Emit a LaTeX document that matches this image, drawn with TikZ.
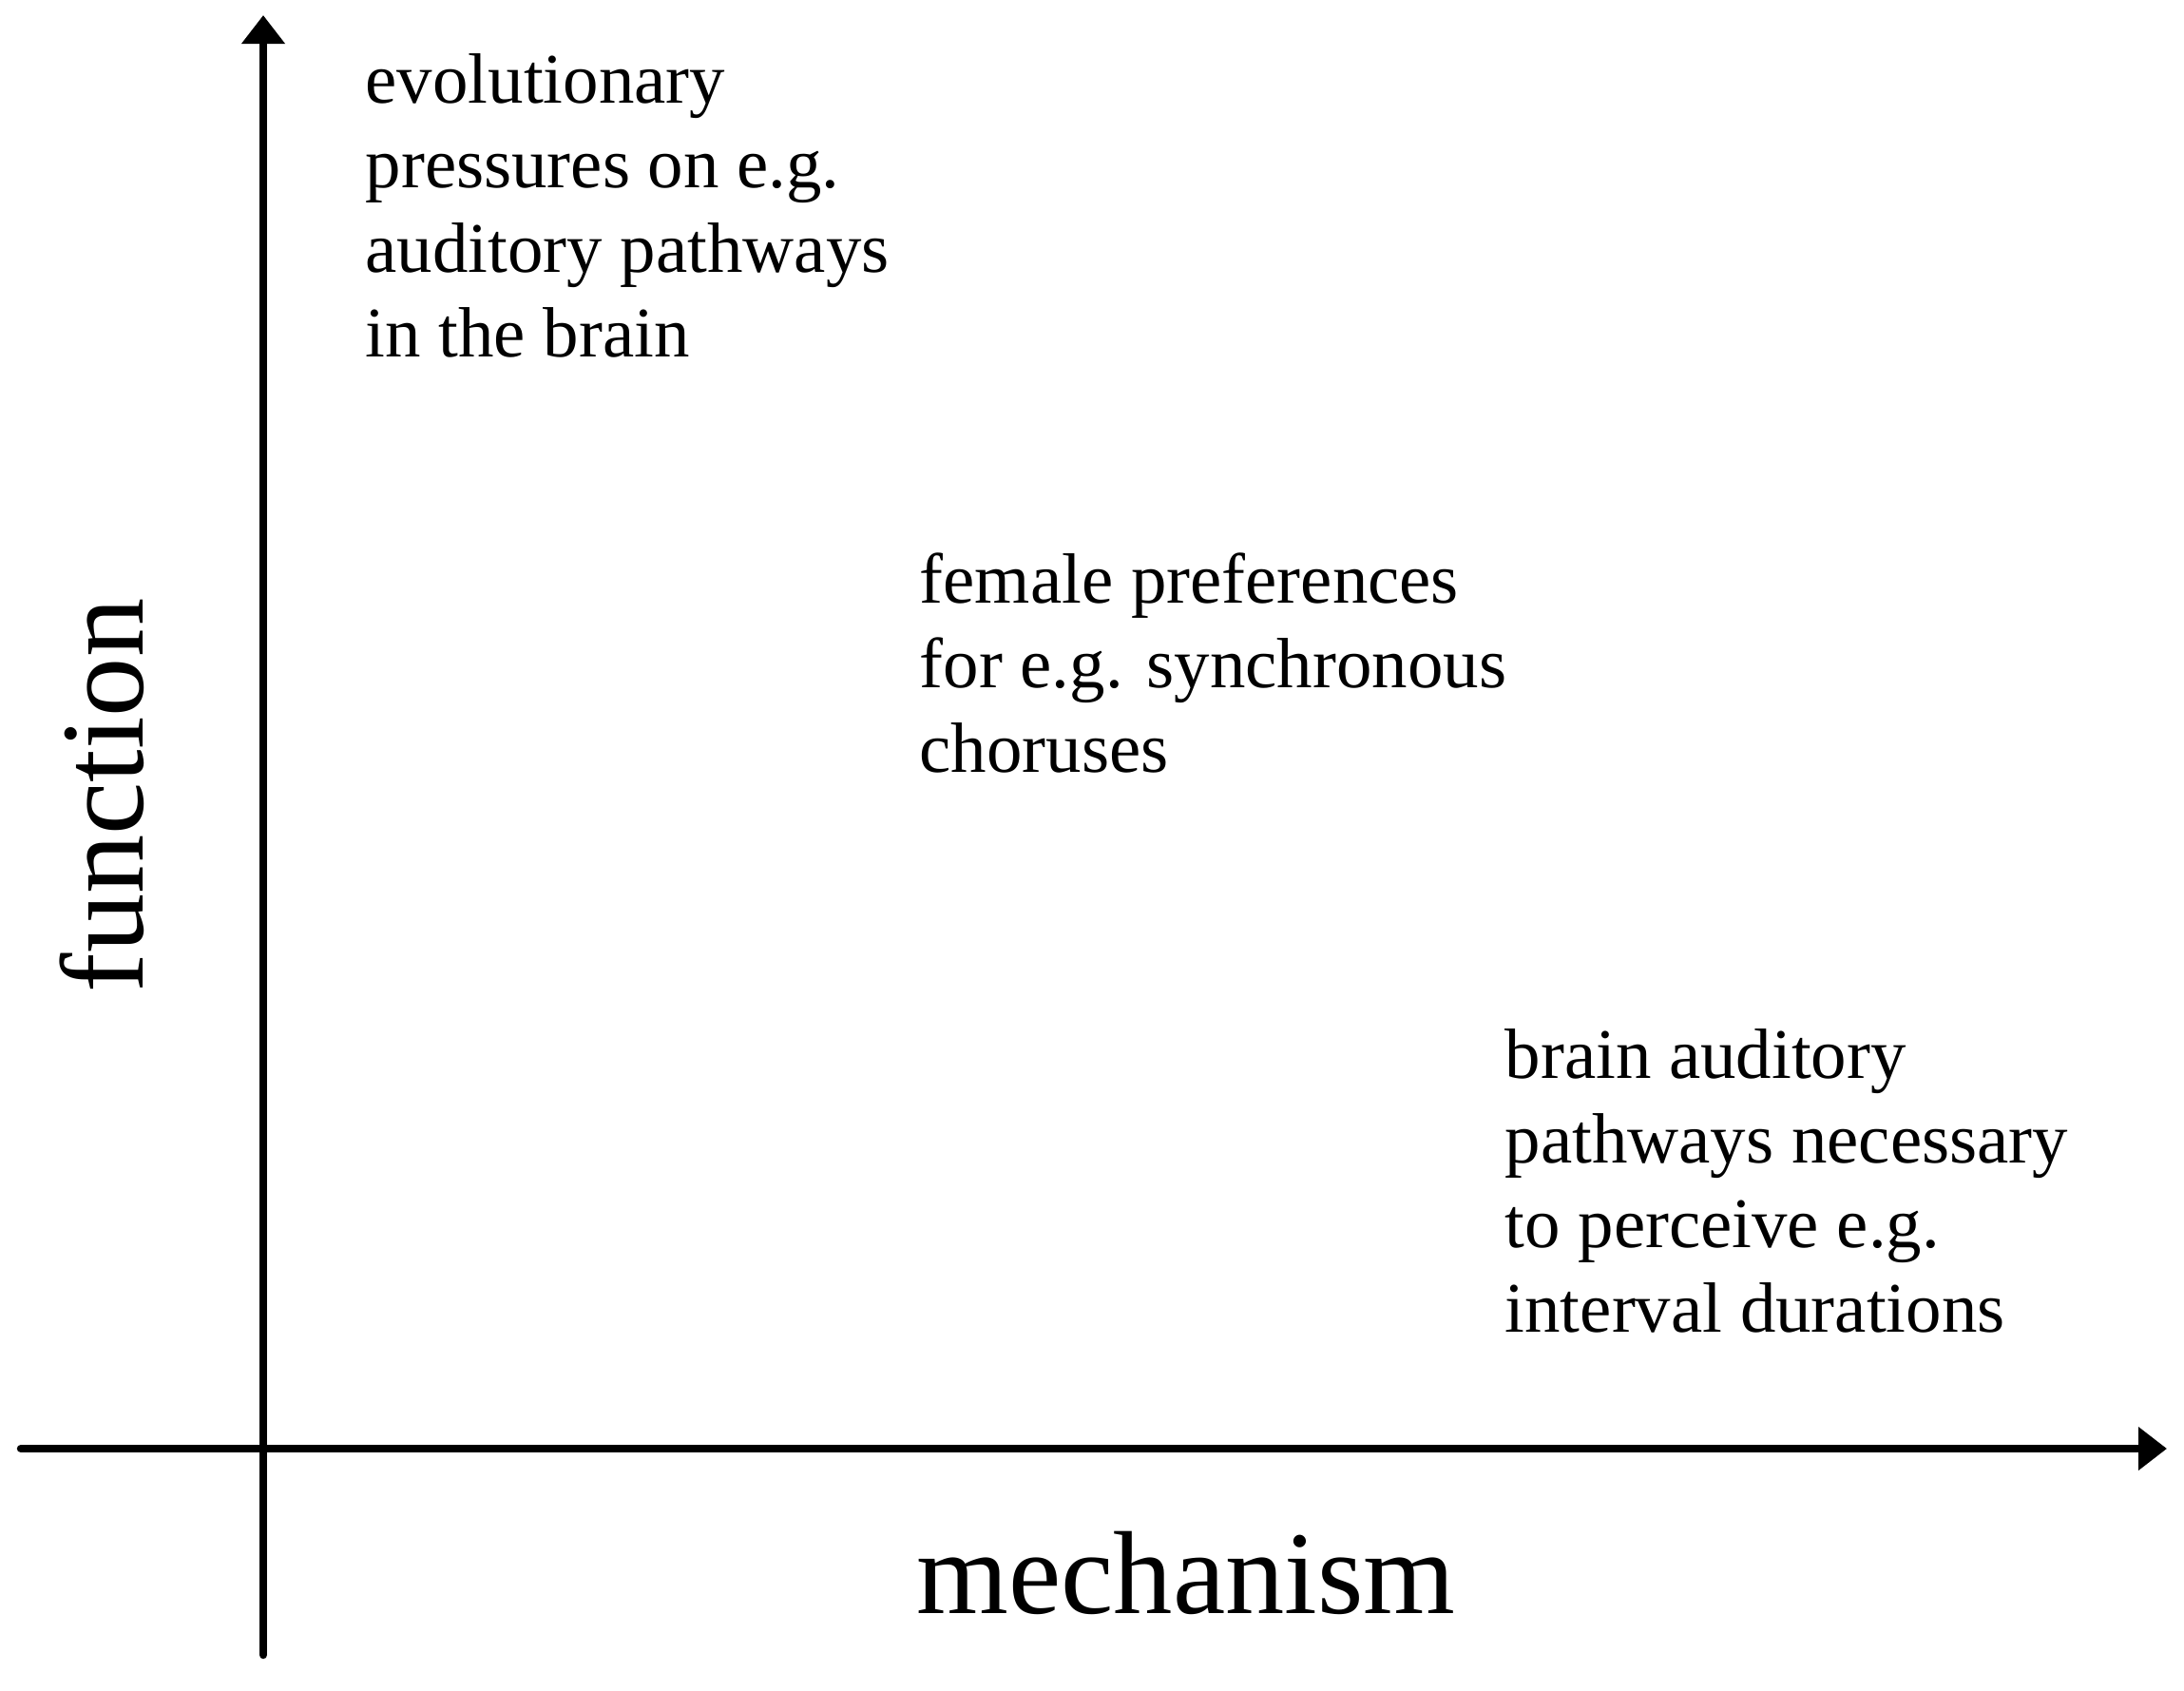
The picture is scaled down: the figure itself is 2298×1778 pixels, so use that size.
\documentclass[tikz,border=0pt]{standalone}
\usepackage{fontspec}
\setmainfont{Liberation Serif}
\usetikzlibrary{arrows.meta,positioning}
\tikzset{
  lbl/.style={align=left,inner sep=0pt,anchor=base west,
              font=\fontsize{21.3}{25.3}\selectfont},
  axlbl/.style={inner sep=0pt,anchor=base,font=\fontsize{35.4}{42}\selectfont},
  axis/.style={line width=2.4pt,line cap=round,
               -{Triangle[length=3mm,width=4.4mm]}},
}
\begin{document}
\begin{tikzpicture}[x=0.1mm,y=-0.1mm]
    \useasboundingbox (0,0) rectangle (2298,1778);
    % axes
    \coordinate (ybot) at (277,1741);
    \coordinate (ytop) at (277,16);
    \coordinate (xleft) at (22,1524);
    \coordinate (xright) at (2280,1524);
    \draw[axis] (ybot) -- (ytop);
    \draw[axis] (xleft) -- (xright);
    \node[axlbl,rotate=90] (fn) at (150,837) {function};
    \node[axlbl] (mech) at (1248,1697) {mechanism};
    % examples (anchored at the baseline of the last line)
    \node[lbl] (evo) at (384,375) {evolutionary\\pressures on e.g.\\auditory pathways\\in the brain};
    \node[lbl] (fem) at (967,812) {female preferences\\for e.g. synchronous\\choruses};
    \node[lbl] (aud) at (1583,1401) {brain auditory\\pathways necessary\\to perceive e.g.\\interval durations};
\end{tikzpicture}
\end{document}
